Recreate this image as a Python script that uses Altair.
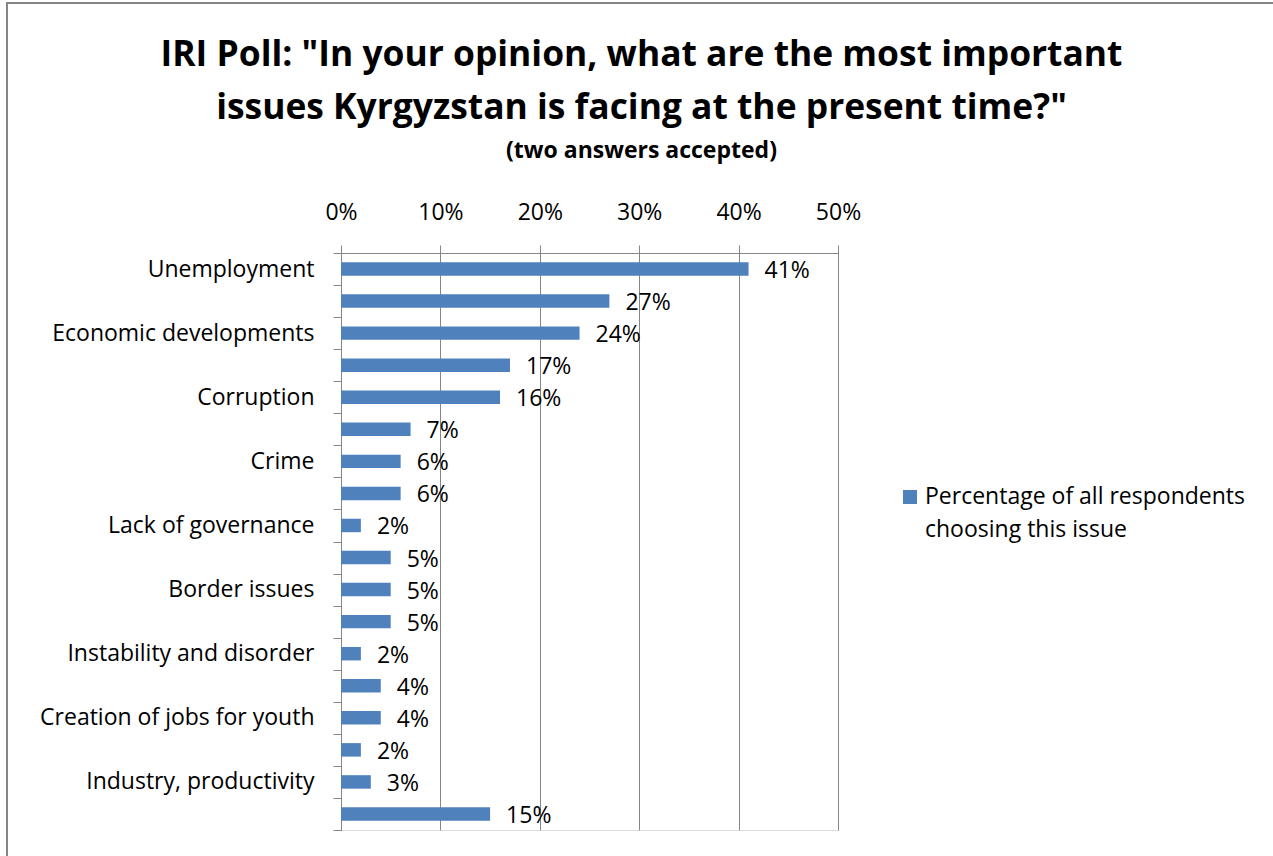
import altair as alt
import pandas as pd

# Category labels (only every other row is labelled in the original chart)
labels = ["Unemployment", "", "Economic developments", "", "Corruption", "",
          "Crime", "", "Lack of governance", "", "Border issues", "",
          "Instability and disorder", "", "Creation of jobs for youth", "",
          "Industry, productivity", ""]
values = [0.41, 0.27, 0.24, 0.17, 0.16, 0.07, 0.06, 0.06, 0.02,
          0.05, 0.05, 0.05, 0.02, 0.04, 0.04, 0.02, 0.03, 0.15]
legend_lines = ["Percentage of all respondents", "choosing this issue"]
x_ticks = [0, 0.1, 0.2, 0.3, 0.4, 0.5]

df = pd.DataFrame({"idx": list(range(len(values))), "label": labels,
                   "value": values})
legend_df = pd.DataFrame({"series": [" ".join(legend_lines)]})

label_js = "[" + ",".join("'" + l.replace("'", "\\'") + "'" for l in labels) + "]"

FONT = "Open Sans"
GRID = "#868686"
BLUE = "#4F81BD"
FS = 23

y_enc = alt.Y("idx:O", sort="ascending",
              scale=alt.Scale(paddingInner=0, paddingOuter=0),
              axis=alt.Axis(title=None, labelExpr=label_js + "[datum.value]",
                            tickBand="extent", tickSize=8, tickColor=GRID,
                            domainColor=GRID, labelFontSize=FS, labelFont=FONT,
                            labelColor="#000000", labelPadding=19, grid=False,
                            labelLimit=400))
x_enc = alt.X("value:Q", scale=alt.Scale(domain=[0, 0.5]),
              axis=alt.Axis(orient="top", values=x_ticks, format=".0%", title=None,
                            grid=True, gridColor=GRID, gridOpacity=1,
                            tickColor=GRID, tickSize=8, domainColor=GRID,
                            labelFontSize=FS, labelFont=FONT, labelColor="#000000",
                            labelPadding=21, labelFlush=False))

bars = alt.Chart(df).mark_bar(height={"band": 0.42}, color=BLUE).encode(
    x=x_enc, y=y_enc
)

text = alt.Chart(df).mark_text(align="left", dx=16, dy=2, fontSize=FS, font=FONT,
                               color="#000000").encode(
    x="value:Q", y=alt.Y("idx:O", sort="ascending"),
    text=alt.Text("value:Q", format=".0%")
)

legend_sym = alt.Chart(legend_df).mark_square(size=196, color=BLUE, opacity=1).encode(
    x=alt.value(569), y=alt.value(244)
)
legend_txt = alt.Chart(legend_df).mark_text(
    align="left", baseline="middle", fontSize=FS, font=FONT, color="#000000",
    lineHeight=33).encode(
    x=alt.value(584), y=alt.value(244), text=alt.value(legend_lines)
)

border = alt.Chart(legend_df).mark_rect(fill=None, stroke=GRID, strokeWidth=2).encode(
    x=alt.value(-334), x2=alt.value(1000), y=alt.value(-250), y2=alt.value(700)
)

chart = alt.layer(border, bars, text, legend_sym, legend_txt).properties(
    width=497, height=577,
    padding={"left": 341, "top": 253, "right": 435, "bottom": 26},
    autosize=alt.AutoSizeParams(type="none"),
    title=alt.TitleParams(
        text=['IRI Poll: "In your opinion, what are the most important',
              'issues Kyrgyzstan is facing at the present time?"'],
        subtitle="(two answers accepted)",
        font=FONT, fontSize=35.4, fontWeight="bold", color="#000000",
        subtitleFont=FONT, subtitleFontSize=23, subtitleFontWeight="bold",
        subtitleColor="#000000", anchor="middle", frame="group",
        lineHeight=53, subtitlePadding=14, offset=-161, dx=52)
).configure_view(stroke=None).configure(background="white")

chart.save("out.html", embed_options={"renderer": "svg", "actions": False})
